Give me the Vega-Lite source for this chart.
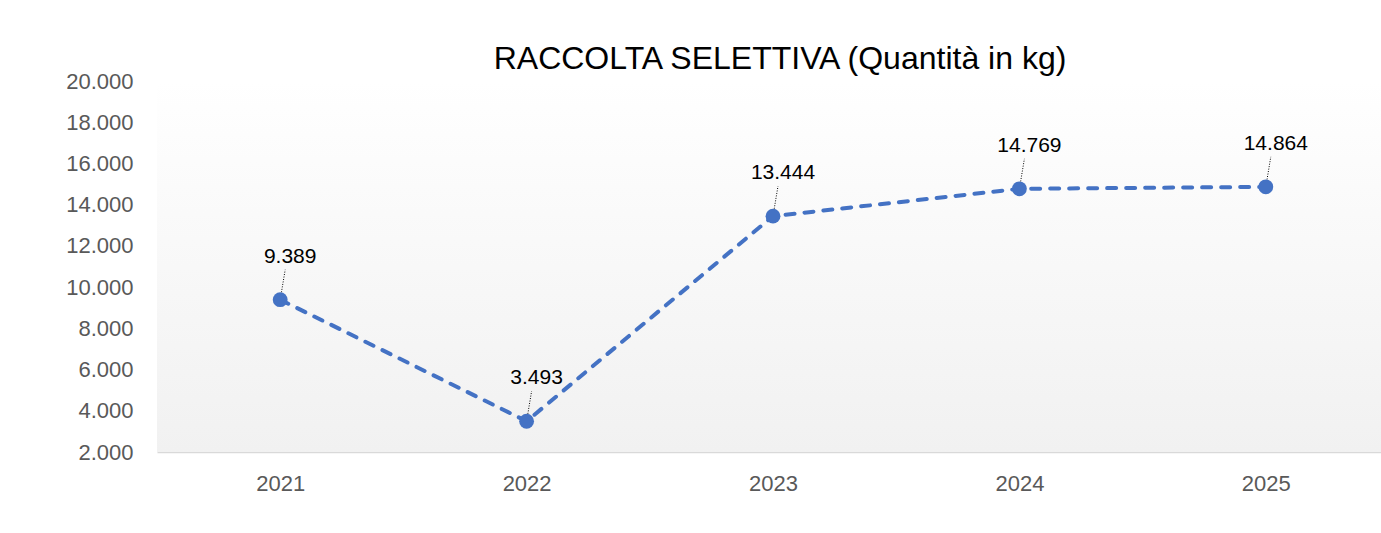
{
  "$schema": "https://vega.github.io/schema/vega-lite/v6.json",
  "autosize": {"type": "none"},
  "padding": {"left": 157, "top": 81, "right": 0, "bottom": 82},
  "width": 1232,
  "height": 371,
  "background": "#ffffff",
  "title": {
    "text": "RACCOLTA SELETTIVA (Quantità in kg)",
    "font": "Liberation Sans",
    "fontSize": 32,
    "fontWeight": "normal",
    "color": "#000000",
    "baseline": "alphabetic",
    "offset": -31,
    "dx": 7
  },
  "config": {
    "locale": {"number": {"decimal": ",", "thousands": ".", "grouping": [3], "currency": ["€", ""]}},
    "view": {"stroke": null},
    "axis": {"grid": false, "ticks": false, "labelFont": "Liberation Sans", "labelFontSize": 22, "labelColor": "#595959", "title": null}
  },
  "data": {
    "values": [
      {"year": "2021", "value": 9389},
      {"year": "2022", "value": 3493},
      {"year": "2023", "value": 13444},
      {"year": "2024", "value": 14769},
      {"year": "2025", "value": 14864}
    ]
  },
  "layer": [
    {
      "mark": {
        "type": "rect",
        "color": {"gradient": "linear", "x1": 0, "y1": 0, "x2": 0, "y2": 1, "stops": [{"offset": 0, "color": "#ffffff"}, {"offset": 1, "color": "#f1f1f1"}]}
      },
      "encoding": {
        "y": {"datum": 20000, "type": "quantitative"},
        "y2": {"datum": 2000}
      }
    },
    {
      "mark": {"type": "line", "color": "#4472C4", "strokeWidth": 4, "strokeDash": [9, 10], "strokeCap": "round"},
      "encoding": {
        "x": {"field": "year", "type": "ordinal", "scale": {"type": "point", "padding": 0.5},
              "axis": {"labelAngle": 0, "domain": true, "domainColor": "#d9d9d9", "domainWidth": 1.5, "labelPadding": 21}},
        "y": {"field": "value", "type": "quantitative", "scale": {"domain": [2000, 20000], "nice": false, "zero": false},
              "axis": {"values": [2000, 4000, 6000, 8000, 10000, 12000, 14000, 16000, 18000, 20000], "domain": false, "labelPadding": 24, "format": ",d"}}
      }
    },
    {
      "mark": {"type": "rule", "color": "#000000", "strokeWidth": 1, "strokeDash": [1, 1.5], "x2Offset": 5, "y2Offset": -30},
      "encoding": {
        "x": {"field": "year", "type": "ordinal"},
        "x2": {"field": "year"},
        "y": {"field": "value", "type": "quantitative"},
        "y2": {"field": "value"}
      }
    },
    {
      "mark": {"type": "point", "filled": true, "color": "#4472C4", "size": 220, "opacity": 1},
      "encoding": {
        "x": {"field": "year", "type": "ordinal"},
        "y": {"field": "value", "type": "quantitative"}
      }
    },
    {
      "mark": {"type": "text", "font": "Liberation Sans", "fontSize": 21, "color": "#000000", "dy": -43, "dx": 10, "baseline": "middle"},
      "encoding": {
        "x": {"field": "year", "type": "ordinal"},
        "y": {"field": "value", "type": "quantitative"},
        "text": {"field": "value", "type": "quantitative", "format": ",d"}
      }
    }
  ]
}
